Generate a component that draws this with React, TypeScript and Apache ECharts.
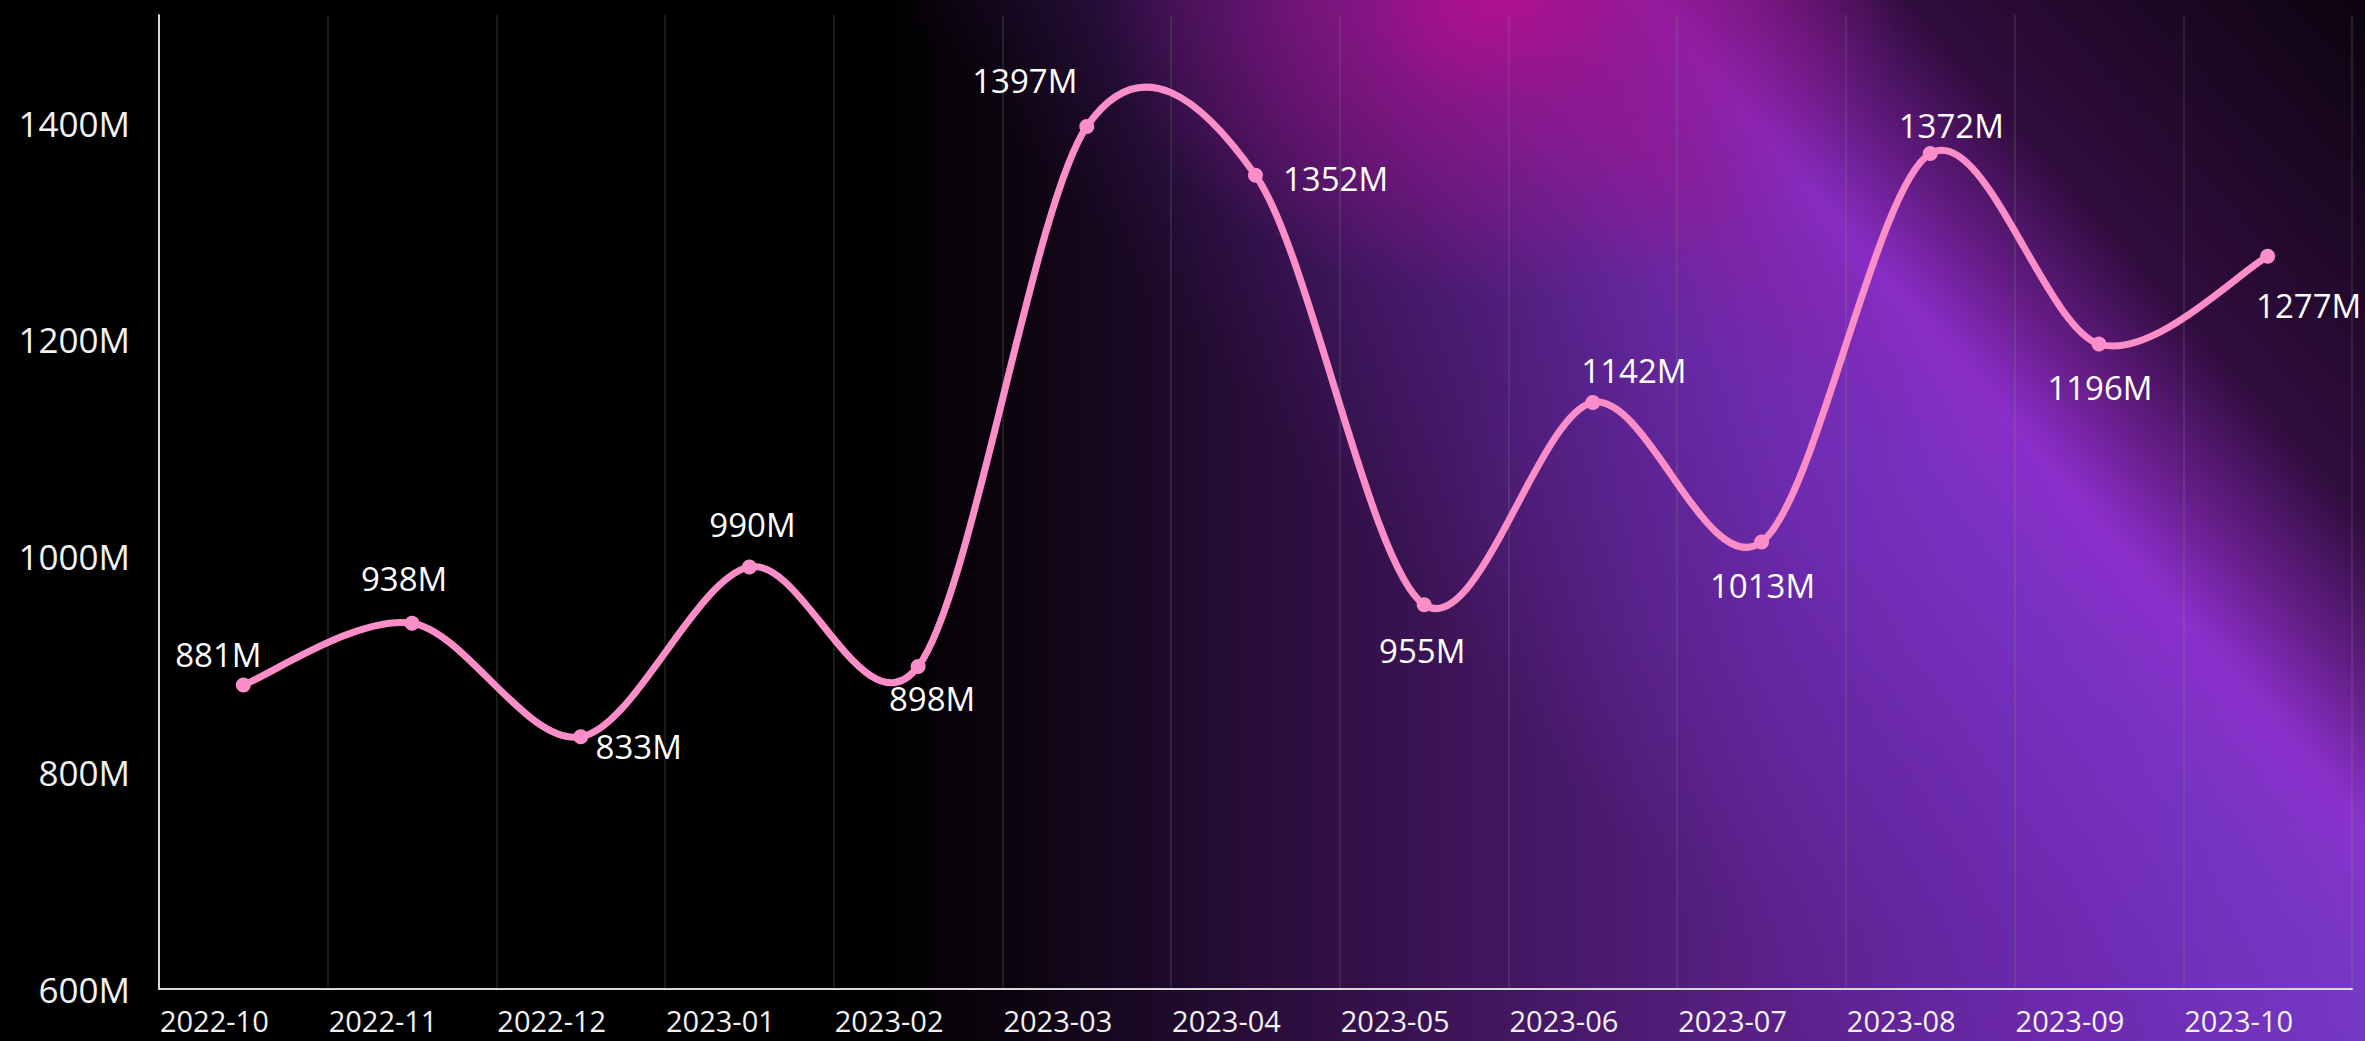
import React, { useEffect, useRef } from "react";
import * as echarts from "echarts";

const months = [
  "2022-10", "2022-11", "2022-12", "2023-01", "2023-02", "2023-03", "2023-04",
  "2023-05", "2023-06", "2023-07", "2023-08", "2023-09", "2023-10",
];
const values = [881, 938, 833, 990, 898, 1397, 1352, 955, 1142, 1013, 1372, 1196, 1277];
const yMin = 600;
const yMax = 1500;
const yInterval = 200;
// label offsets (px) relative to each point
const labelOffsets: [number, number][] = [
  [-25, -30], [-8, -45], [58, 10], [3, -42], [14, 32], [-62, -46], [80, 3],
  [-2, 46], [41, -32], [1, 43], [21, -28], [1, 44], [41, 49],
];

const FONT = "'Open Sans', 'Noto Sans', sans-serif";
const PINK = "#fb8dc8";
const TENSION = 0.16;

export default function App() {
  const ref = useRef<HTMLDivElement>(null);
  useEffect(() => {
    if (!ref.current) return;
    const chart = echarts.init(ref.current, null, { renderer: "svg" });
    const n = values.length;
    chart.setOption({
      animation: false,
      backgroundColor: "transparent",
      grid: { left: 159, right: 13, top: 15, bottom: 52, containLabel: false },
      xAxis: {
        type: "category",
        data: months,
        boundaryGap: true,
        axisLine: { show: true, lineStyle: { color: "#d8d8d8", width: 2 } },
        axisTick: { show: false },
        splitLine: { show: true, lineStyle: { color: "rgba(120,160,120,0.18)", width: 2 } },
        axisLabel: {
          color: "#f2f2f2",
          fontSize: 29,
          lineHeight: 30,
          fontFamily: FONT,
          margin: 16,
          padding: [0, 58, 0, 0],
          interval: 0,
        },
      },
      yAxis: {
        type: "value",
        min: yMin,
        max: yMax,
        interval: yInterval,
        axisLine: { show: true, lineStyle: { color: "#d8d8d8", width: 2 } },
        axisTick: { show: false },
        splitLine: { show: false },
        axisLabel: {
          color: "#f2f2f2",
          fontSize: 35,
          fontFamily: FONT,
          margin: 29,
          showMaxLabel: false,
          formatter: (v: number) => `${v}M`,
        },
      },
      series: [
        {
          type: "custom",
          z: 2,
          data: values.map((v, i) => [i, v]),
          renderItem: (params: any, api: any) => {
            const i = params.dataIndex;
            if (i >= n - 1) return { type: "group", children: [] };
            const P = (k: number) => {
              const kk = Math.max(0, Math.min(n - 1, k));
              return api.coord([kk, values[kk]]);
            };
            const p0 = P(i);
            const p1 = P(i + 1);
            const pa = P(i - 1);
            const pb = P(i + 2);
            const c0 = [p0[0] + (p1[0] - pa[0]) * TENSION, p0[1] + (p1[1] - pa[1]) * TENSION];
            const c1 = [p1[0] - (pb[0] - p0[0]) * TENSION, p1[1] - (pb[1] - p0[1]) * TENSION];
            return {
              type: "bezierCurve",
              shape: {
                x1: p0[0], y1: p0[1], x2: p1[0], y2: p1[1],
                cpx1: c0[0], cpy1: c0[1], cpx2: c1[0], cpy2: c1[1],
              },
              style: { stroke: PINK, lineWidth: 7, fill: "none", lineCap: "round" },
            };
          },
        },
        {
          type: "scatter",
          z: 3,
          symbol: "circle",
          symbolSize: 15,
          itemStyle: { color: PINK, opacity: 1 },
          data: values.map((v, i) => ({
            value: v,
            label: {
              show: true,
              position: "inside",
              offset: labelOffsets[i],
              align: "center",
              verticalAlign: "middle",
              color: "#ffffff",
              fontSize: 33,
              fontFamily: FONT,
              formatter: `${v}M`,
            },
          })),
        },
      ],
    });
    return () => chart.dispose();
  }, []);

  const bg = [
    "radial-gradient(ellipse 400px 300px at 63.5% 0%, rgba(190,12,140,0.95) 0%, rgba(165,15,135,0.6) 35%, rgba(130,20,130,0) 100%)",
    "linear-gradient(49deg, rgba(0,0,0,0) 0%, rgba(0,0,0,0) 55%, rgba(120,48,200,0.28) 66%, rgba(130,55,212,0.5) 73.5%, rgba(150,48,212,0.72) 78%, rgba(100,25,125,0.8) 81.5%, rgba(45,10,55,0.93) 86%, rgba(12,3,14,1) 100%)",
    "radial-gradient(ellipse 520px 420px at 83% 50%, rgba(130,55,215,0.3) 0%, rgba(130,55,215,0) 100%)",
    "linear-gradient(90deg, #000000 0%, #000000 37%, #0d0410 43%, #1f0a2c 50%, #331048 57%, #451865 65%, #5a2088 75%, #6a28a8 88%, #6a38b8 100%)",
  ].join(", ");

  return (
    <div
      style={{
        position: "fixed",
        left: 0,
        top: 0,
        width: 2365,
        height: 1041,
        background: bg,
        overflow: "hidden",
      }}
    >
      <div
        style={{
          position: "absolute",
          left: 1250,
          top: 40,
          width: 800,
          height: 220,
          transform: "rotate(49deg)",
          background:
            "radial-gradient(closest-side, rgba(150,22,145,0.45) 0%, rgba(140,25,150,0.2) 60%, rgba(130,30,150,0) 100%)",
        }}
      />
      <div ref={ref} style={{ position: "absolute", left: 0, top: 0, width: 2365, height: 1041 }} />
    </div>
  );
}
